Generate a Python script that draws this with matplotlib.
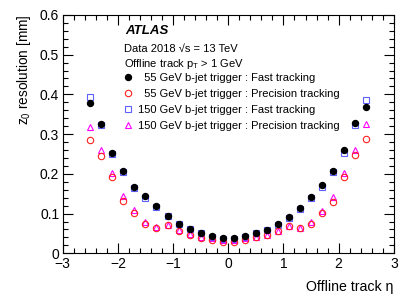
import matplotlib
matplotlib.use("Agg")
import matplotlib.pyplot as plt
from matplotlib.ticker import MultipleLocator
import numpy as np

plt.rcParams["font.family"] = ["Liberation Sans", "DejaVu Sans"]
plt.rcParams["mathtext.fontset"] = "custom"
plt.rcParams["mathtext.rm"] = "Liberation Sans"
plt.rcParams["mathtext.it"] = "Liberation Sans:italic"

# ─── Data ─────────────────────────────────────────────────────────────────────
eta = [-2.5, -2.3, -2.1, -1.9, -1.7, -1.5, -1.3, -1.1, -0.9, -0.7, -0.5, -0.3, -0.1,
       0.1, 0.3, 0.5, 0.7, 0.9, 1.1, 1.3, 1.5, 1.7, 1.9, 2.1, 2.3, 2.5]

fast_55 = [0.378, 0.325, 0.252, 0.206, 0.168, 0.143, 0.120, 0.095, 0.075, 0.061, 0.052, 0.043, 0.038,
           0.038, 0.043, 0.052, 0.059, 0.073, 0.092, 0.115, 0.142, 0.171, 0.207, 0.259, 0.328, 0.368]
prec_55 = [0.284, 0.245, 0.191, 0.131, 0.101, 0.074, 0.063, 0.070, 0.057, 0.046, 0.039, 0.033, 0.028,
           0.028, 0.034, 0.040, 0.045, 0.055, 0.068, 0.063, 0.073, 0.102, 0.130, 0.191, 0.248, 0.288]
fast_150 = [0.394, 0.323, 0.250, 0.204, 0.165, 0.140, 0.117, 0.093, 0.073, 0.060, 0.050, 0.042, 0.037,
            0.037, 0.042, 0.050, 0.058, 0.070, 0.088, 0.112, 0.139, 0.167, 0.204, 0.252, 0.322, 0.386]
prec_150 = [0.317, 0.260, 0.203, 0.143, 0.110, 0.078, 0.066, 0.072, 0.059, 0.048, 0.042, 0.038, 0.033,
            0.033, 0.038, 0.042, 0.047, 0.057, 0.069, 0.064, 0.078, 0.107, 0.142, 0.201, 0.260, 0.326]

labels = [
    "\u200755 GeV b-jet trigger : Fast tracking",
    "\u200755 GeV b-jet trigger : Precision tracking",
    "150 GeV b-jet trigger : Fast tracking",
    "150 GeV b-jet trigger : Precision tracking",
]

# ─── Styles ───────────────────────────────────────────────────────────────────
STYLES = [
    dict(marker="o", color="black", mfc="black", ms=4.3),
    dict(marker="o", color="#ff2020", mfc="none", ms=4.6, mew=0.8),
    dict(marker="s", color="#5f5fff", mfc="none", ms=4.6, mew=0.8),
    dict(marker="^", color="#ff00ff", mfc="none", ms=4.8, mew=0.8),
]

fig = plt.figure(figsize=(4.15, 2.98), dpi=100)
ax = fig.add_axes([0.151, 0.150, 0.798, 0.800])

series = [fast_55, prec_55, fast_150, prec_150]
# open markers first so the filled black dots sit on top
order = [2, 3, 1, 0]
handles = {}
for i in order:
    h, = ax.plot(eta, series[i], ls="none", **STYLES[i])
    handles[i] = h

ax.set_xlim(-3, 3)
ax.set_ylim(0, 0.6)
ax.xaxis.set_minor_locator(MultipleLocator(0.2))
ax.yaxis.set_minor_locator(MultipleLocator(0.02))
ax.tick_params(which="both", direction="in", top=True, right=True, width=0.8)
ax.tick_params(which="major", length=7, labelsize=10, pad=2.5)
ax.tick_params(which="minor", length=3.5)
ax.set_xticks([-3, -2, -1, 0, 1, 2, 3])
ax.set_xticklabels(["\u22123", "\u22122", "\u22121", "0", "1", "2", "3"])
ax.set_yticks([0, 0.1, 0.2, 0.3, 0.4, 0.5, 0.6])
ax.set_yticklabels(["0", "0.1", "0.2", "0.3", "0.4", "0.5", "0.6"])
for s in ax.spines.values():
    s.set_linewidth(0.8)

ax.set_xlabel("Offline track \u03b7", fontsize=10.2, loc="right", labelpad=7)
ax.set_ylabel("z$_0$ resolution [mm]", fontsize=9.8, loc="top", labelpad=5)

# ─── Annotations ──────────────────────────────────────────────────────────────
ax.text(0.188, 0.934, "ATLAS", transform=ax.transAxes, fontsize=9.5,
        fontweight="bold", fontstyle="italic", va="center")
ax.text(0.1855, 0.858, "Data 2018 \u221as = 13 TeV", transform=ax.transAxes,
        fontsize=8, va="center")
ax.text(0.1855, 0.795, "Offline track p$_{\\mathrm{T}}$ > 1 GeV", transform=ax.transAxes,
        fontsize=8, va="center")

leg = ax.legend([handles[i] for i in range(4)], labels, loc="upper left",
                bbox_to_anchor=(0.177, 0.758), frameon=False, fontsize=8,
                handlelength=1.2, handletextpad=0.3, labelspacing=0.55,
                borderpad=0.0, borderaxespad=0.0, numpoints=1)

fig.savefig("out.png", dpi=100)
